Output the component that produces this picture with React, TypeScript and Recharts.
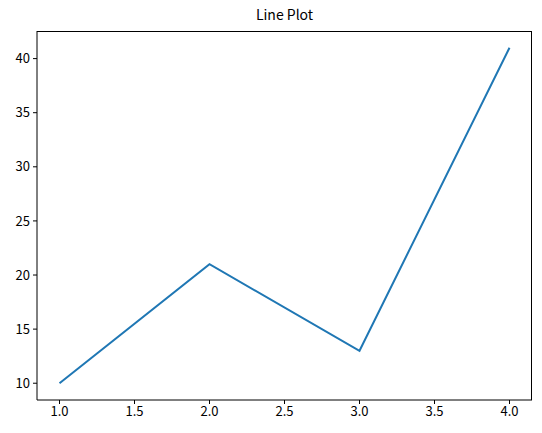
import { LineChart, Line, XAxis, YAxis } from 'recharts';

const xValues = [1, 2, 3, 4];
const yValues = [10, 21, 13, 41];
const xTicks = [1.0, 1.5, 2.0, 2.5, 3.0, 3.5, 4.0];
const yTicks = [10, 15, 20, 25, 30, 35, 40];

const chartData = xValues.map((x, i) => ({ x, y: yValues[i] }));

const font = '"Noto Sans CJK KR", "DejaVu Sans", sans-serif';
const tickStyle = { fill: '#000', fontSize: 13, fontFamily: font };

export default function App() {
    return (
        <div style={{ position: 'absolute', left: 0, top: 0, width: 542, height: 433, background: '#fff' }}>
            <div style={{ position: 'absolute', left: 37, width: 495, top: 4, textAlign: 'center', fontFamily: font, fontSize: 14, color: '#000' }}>
                Line Plot
            </div>
            <LineChart width={542} height={433} data={chartData} margin={{ top: 31, right: 10, left: 0, bottom: 0 }}>
                <XAxis
                    dataKey="x"
                    type="number"
                    domain={[0.85, 4.15]}
                    ticks={xTicks}
                    tickFormatter={(v: number) => v.toFixed(1)}
                    height={33}
                    tickSize={4}
                    tickMargin={3}
                    stroke="#000"
                    tick={tickStyle}
                    allowDataOverflow
                />
                <YAxis
                    type="number"
                    domain={[8.45, 42.55]}
                    ticks={yTicks}
                    width={37}
                    tickSize={4}
                    tickMargin={3}
                    stroke="#000"
                    tick={tickStyle}
                    allowDataOverflow
                />
                <Line dataKey="y" stroke="#1f77b4" strokeWidth={2} dot={false} isAnimationActive={false} />
            </LineChart>
            {/* top and right spines */}
            <div style={{ position: 'absolute', left: 37, top: 31, width: 495, height: 369, boxSizing: 'border-box', borderTop: '1px solid #000', borderRight: '1px solid #000', pointerEvents: 'none' }} />
        </div>
    );
}
